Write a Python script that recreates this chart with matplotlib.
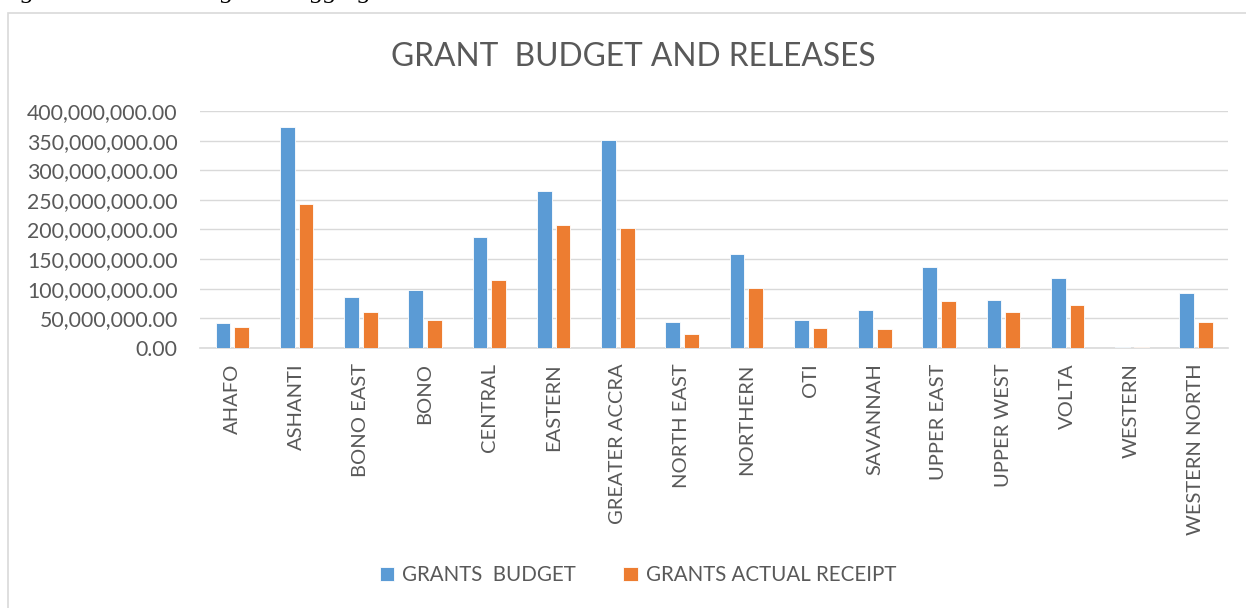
import matplotlib.pyplot as plt
import matplotlib.patches as patches
import numpy as np

regions = ["AHAFO", "ASHANTI", "BONO EAST", "BONO", "CENTRAL", "EASTERN",
           "GREATER ACCRA", "NORTH EAST", "NORTHERN", "OTI", "SAVANNAH",
           "UPPER EAST", "UPPER WEST", "VOLTA", "WESTERN", "WESTERN NORTH"]
budget = [41.7e6, 373e6, 85.5e6, 98e6, 188e6, 265e6, 351e6, 43.3e6,
          158e6, 47e6, 64e6, 137e6, 81e6, 117.6e6, 2.5e6, 92.8e6]
receipt = [35e6, 243.6e6, 61.3e6, 47e6, 115e6, 207e6, 202e6, 23.6e6,
           101e6, 33e6, 32e6, 79e6, 60.8e6, 73e6, 1.5e6, 44.4e6]

W, H = 1246, 608
fig = plt.figure(figsize=(W / 100, H / 100), dpi=100)
plt.rcParams['font.family'] = ['Lato', 'DejaVu Sans']
grey = '#595959'

# chart frame (cut off at right/bottom like the reference)
fig.patches.append(patches.Rectangle((8 / W, -0.05), 1.1, 1 - 12.5 / H + 0.05,
                                     transform=fig.transFigure, fill=False,
                                     edgecolor='#D9D9D9', linewidth=1.2))
# caption above the chart, cropped by the page edge in the reference
fig.text(-2 / W, 1 + 2 / H, "Figure 4: Grants: Regional Aggregates",
         family='Liberation Serif', style='italic', fontsize=19,
         va='baseline', ha='left', color='black')

ax = fig.add_axes([200 / W, 1 - 348 / H, (1228 - 200) / W, (348 - 111) / H])
x = np.arange(len(regions))
bw = 0.229
ax.bar(x - 0.143, budget, bw, color='#5B9BD5', edgecolor='white',
       linewidth=0.6, label='GRANTS  BUDGET', zorder=3)
ax.bar(x + 0.149, receipt, bw, color='#ED7D31', edgecolor='white',
       linewidth=0.6, label='GRANTS ACTUAL RECEIPT', zorder=3)

ax.set_xlim(-0.5, len(regions) - 0.5)
ax.set_ylim(0, 400e6)
ax.set_yticks(np.arange(0, 400e6 + 1, 50e6))
ax.set_yticklabels(['{:,.2f}'.format(v) for v in ax.get_yticks()])
ax.set_xticks(x)
ax.set_xticklabels(regions, rotation=90)
ax.tick_params(axis='both', length=0, colors=grey)
ax.tick_params(axis='y', pad=16, labelsize=15.3)
ax.tick_params(axis='x', pad=11, labelsize=14.5)
ax.grid(axis='y', color='#D9D9D9', linewidth=1.0, zorder=0)
for s in ['top', 'right', 'left']:
    ax.spines[s].set_visible(False)
ax.spines['bottom'].set_color('#D9D9D9')
ax.spines['bottom'].set_linewidth(1.2)

fig.text(633 / W, 1 - 57 / H, "GRANT  BUDGET AND RELEASES", ha='center',
         va='center', fontsize=22.9, color=grey)

leg = fig.legend(loc='center', bbox_to_anchor=(638 / W, 1 - 575 / H),
                 ncol=2, frameon=False, fontsize=14.8, handlelength=0.7,
                 handleheight=0.7, handletextpad=0.4, columnspacing=2.3)
for t in leg.get_texts():
    t.set_color(grey)

fig.savefig('out.png', dpi=100)
